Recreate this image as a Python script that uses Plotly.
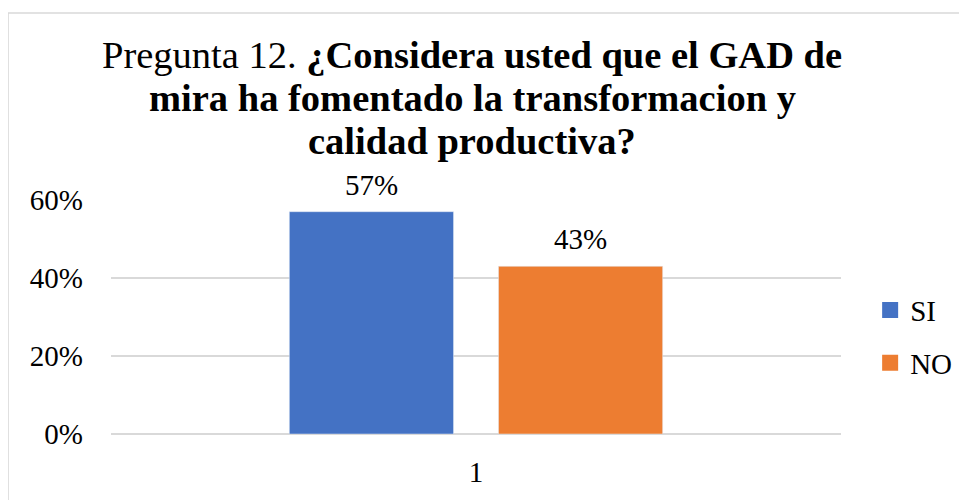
import plotly.graph_objects as go

categories = ["1"]
series_names = ["SI", "NO"]
series_values = [[0.57], [0.43]]
series_colors = ["#4472C4", "#ED7D31"]
y_ticks = [0, 0.2, 0.4, 0.6]
y_tick_labels = ["0%", "20%", "40%", "60%"]
title_lines = [
    "Pregunta 12. <b>¿Considera usted que el GAD de</b>",
    "<b>mira ha fomentado la transformacion y</b>",
    "<b>calidad productiva?</b>",
]

FONT = "Liberation Serif"
W, H = 959, 492          # page body has an 8px margin
ML, MR, MT, MB = 103, 126, 192, 66
BARGAP, BARGROUPGAP = 0.427, 0.215
plot_w = W - ML - MR

fig = go.Figure()
for name, vals, col in zip(series_names, series_values, series_colors):
    fig.add_trace(go.Bar(
        x=categories, y=vals, name=name, marker_color=col,
        cliponaxis=False, showlegend=False,
    ))
for i, (name, col) in enumerate(zip(series_names, series_colors)):
    fig.add_trace(go.Scatter(
        x=[None], y=[None], mode="markers", name=name,
        marker=dict(symbol="square", size=16, color=col),
        legendgroup=f"g{i}",
    ))

# value labels above bars
slot = plot_w * (1 - BARGAP) / len(series_names)
annotations = []
for k, vals in enumerate(series_values):
    shift = (k - (len(series_names) - 1) / 2) * slot
    for ci, v in enumerate(vals):
        annotations.append(dict(
            x=ci, y=v, xref="x", yref="y", text=f"{v:.0%}", showarrow=False,
            xshift=shift, yshift=27, yanchor="middle",
            font=dict(family=FONT, size=29, color="black")))

# title lines
for j, line in enumerate(title_lines):
    annotations.append(dict(
        x=0.495, y=1.62 - j * 0.1835, xref="paper", yref="paper",
        text=line, showarrow=False, xanchor="center", yanchor="middle",
        font=dict(family=FONT, size=38.5, color="black")))

fig.update_layout(
    width=W, height=H,
    margin=dict(l=ML, r=MR, t=MT, b=MB, autoexpand=False),
    paper_bgcolor="white", plot_bgcolor="white",
    barmode="group", bargap=BARGAP, bargroupgap=BARGROUPGAP,
    font=dict(family=FONT, size=29, color="black"),
    xaxis=dict(type="category", range=[-0.5, len(categories) - 0.5],
               showline=False, showgrid=False, ticks="", automargin=False,
               ticklabelstandoff=18, tickfont=dict(family=FONT, size=29)),
    yaxis=dict(range=[0, 0.6], tickvals=y_ticks, ticktext=y_tick_labels,
               showgrid=True, gridcolor="#d9d9d9", gridwidth=1.5,
               zeroline=True, zerolinecolor="#d9d9d9", zerolinewidth=1.5,
               showline=False, ticks="", automargin=False,
               ticklabelstandoff=27, tickfont=dict(family=FONT, size=29)),
    legend=dict(x=0.899, xref="container", xanchor="left",
                y=0.332, yref="container", yanchor="middle",
                font=dict(family=FONT, size=29, color="black"),
                tracegroupgap=12, itemwidth=30, bgcolor="rgba(0,0,0,0)"),
    annotations=annotations,
    shapes=[dict(type="rect", xref="paper", yref="paper",
                 x0=-0.141, x1=1.3, y0=-0.4, y1=1.799,
                 line=dict(color="#d9d9d9", width=1.5), fillcolor="rgba(0,0,0,0)",
                 layer="below")],
)

fig.write_html("out.html")
